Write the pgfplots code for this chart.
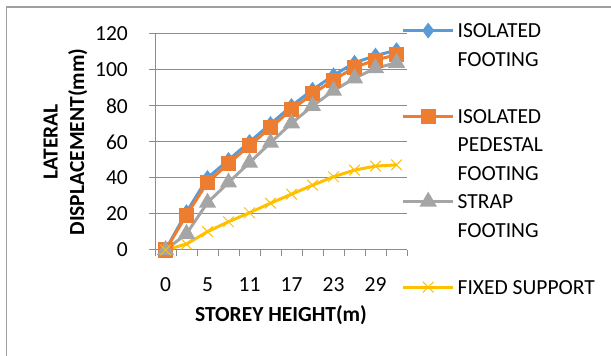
\documentclass[border=0pt]{standalone}
\usepackage{pgfplots}
\pgfplotsset{compat=1.18}
\usepackage{fontspec}
\setmainfont{Carlito}
\definecolor{cblue}{HTML}{5B9BD5}
\definecolor{corange}{HTML}{ED7D31}
\definecolor{cgray}{HTML}{A5A5A5}
\definecolor{cgold}{HTML}{FFC000}
\definecolor{gridc}{HTML}{8C8C8C}
\begin{document}
\fontsize{21.5bp}{27.5bp}\selectfont
\begin{tikzpicture}[font=\fontsize{21.5bp}{27.5bp}\selectfont]
\useasboundingbox (0,0) rectangle (611bp,356bp);
\draw[color=gray!75, line width=1.3bp] (6.5bp,0) -- (6.5bp,349bp) -- (611bp,349bp);
\begin{axis}[
  at={(155bp,106bp)}, anchor=south west,
  scale only axis, width=252bp, height=216bp,
  xmin=-0.5, xmax=11.5, ymin=0, ymax=120,
  axis x line*=bottom, axis y line*=left,
  axis line style={gridc, line width=1bp, -},
  xtick={0,2,4,6,8,10}, xticklabels={0,5,11,17,23,29},
  minor xtick={-0.5,0.5,...,11.5},
  ytick={0,20,...,120},
  ymajorgrids, major grid style={gridc, line width=1bp},
  tick align=outside, major tick length=6bp, minor tick length=6bp,
  major x tick style={draw=none},
  minor x tick style={gridc, line width=1bp},
  major y tick style={gridc, line width=1bp},
  /pgf/number format/assume math mode=true,
  x tick label style={anchor=base, yshift=-35bp, inner sep=0pt},
  y tick label style={anchor=east, xshift=-21bp, inner sep=0pt},
  xlabel={\bfseries STOREY HEIGHT(m)},
  ylabel={\bfseries LATERAL\\\bfseries DISPLACEMENT(mm)},
  every axis x label/.style={at={(axis description cs:0.5,-0.301)}, anchor=center},
  every axis y label/.style={at={(axis description cs:-0.355,0.5)}, anchor=center, rotate=90, align=center, font=\fontsize{21.5bp}{26.5bp}\selectfont},
  legend style={draw=none, fill=none, at={(axis description cs:0.979,1.0528)}, anchor=north west,
    inner sep=0pt, outer sep=0pt, /tikz/row sep=9.5bp, /tikz/column sep=3bp,
    cells={anchor=base west}, nodes={inner sep=0pt, text height=15bp, text depth=4bp},
    font=\fontsize{21.5bp}{27.5bp}\selectfont},
  legend image code/.code={\draw[mark repeat=2,mark phase=2,#1,yshift=7bp] plot coordinates {(0bp,0bp)(25bp,0bp)(50bp,0bp)};},
]
\addplot[cblue, line width=3bp, mark=diamond*, mark size=5.5bp, mark options={solid}] coordinates {
 (0,0) (1,21) (2,40) (3,50) (4,60) (5,70) (6,80) (7,89) (8,97) (9,104) (10,108) (11,111)};
\addlegendentry{ISOLATED}
\addlegendimage{empty legend}\addlegendentry{FOOTING}
\addlegendimage{empty legend}\addlegendentry{\mbox{}}
\addplot[corange, line width=3bp, mark=square*, mark size=6bp, mark options={solid}] coordinates {
 (0,0) (1,19.4) (2,37.6) (3,48) (4,58) (5,68) (6,78) (7,86.7) (8,94.4) (9,101.5) (10,105.5) (11,108.5)};
\addlegendentry{ISOLATED}
\addlegendimage{empty legend}\addlegendentry{PEDESTAL}
\addlegendimage{empty legend}\addlegendentry{FOOTING}
\addplot[cgray, line width=3bp, mark=triangle*, mark size=7bp, mark options={solid}] coordinates {
 (0,0) (1,9) (2,26.3) (3,37.5) (4,48.5) (5,59.6) (6,70.4) (7,80) (8,88.5) (9,95.4) (10,101) (11,104)};
\addlegendentry{STRAP}
\addlegendimage{empty legend}\addlegendentry{FOOTING}
\addlegendimage{empty legend}\addlegendentry{\mbox{}}
\addplot[cgold, line width=3bp, no marks, forget plot] coordinates {
 (0,0) (1,3.3) (2,10.2) (3,15.7) (4,20.7) (5,26) (6,31) (7,36) (8,40.7) (9,44.4) (10,46.6) (11,47.3)};
\addplot[cgold, only marks, mark=x, mark size=7.5bp, mark options={solid, line width=1bp}, forget plot] coordinates {
 (0,0) (1,3.3) (2,10.2) (3,15.7) (4,20.7) (5,26) (6,31) (7,36) (8,40.7) (9,44.4) (10,46.6) (11,47.3)};
\addlegendimage{cgold, line width=3bp, mark=x, mark size=7.5bp, mark options={solid, line width=1bp}}
\addlegendentry{FIXED SUPPORT}
\end{axis}
\end{tikzpicture}
\end{document}
